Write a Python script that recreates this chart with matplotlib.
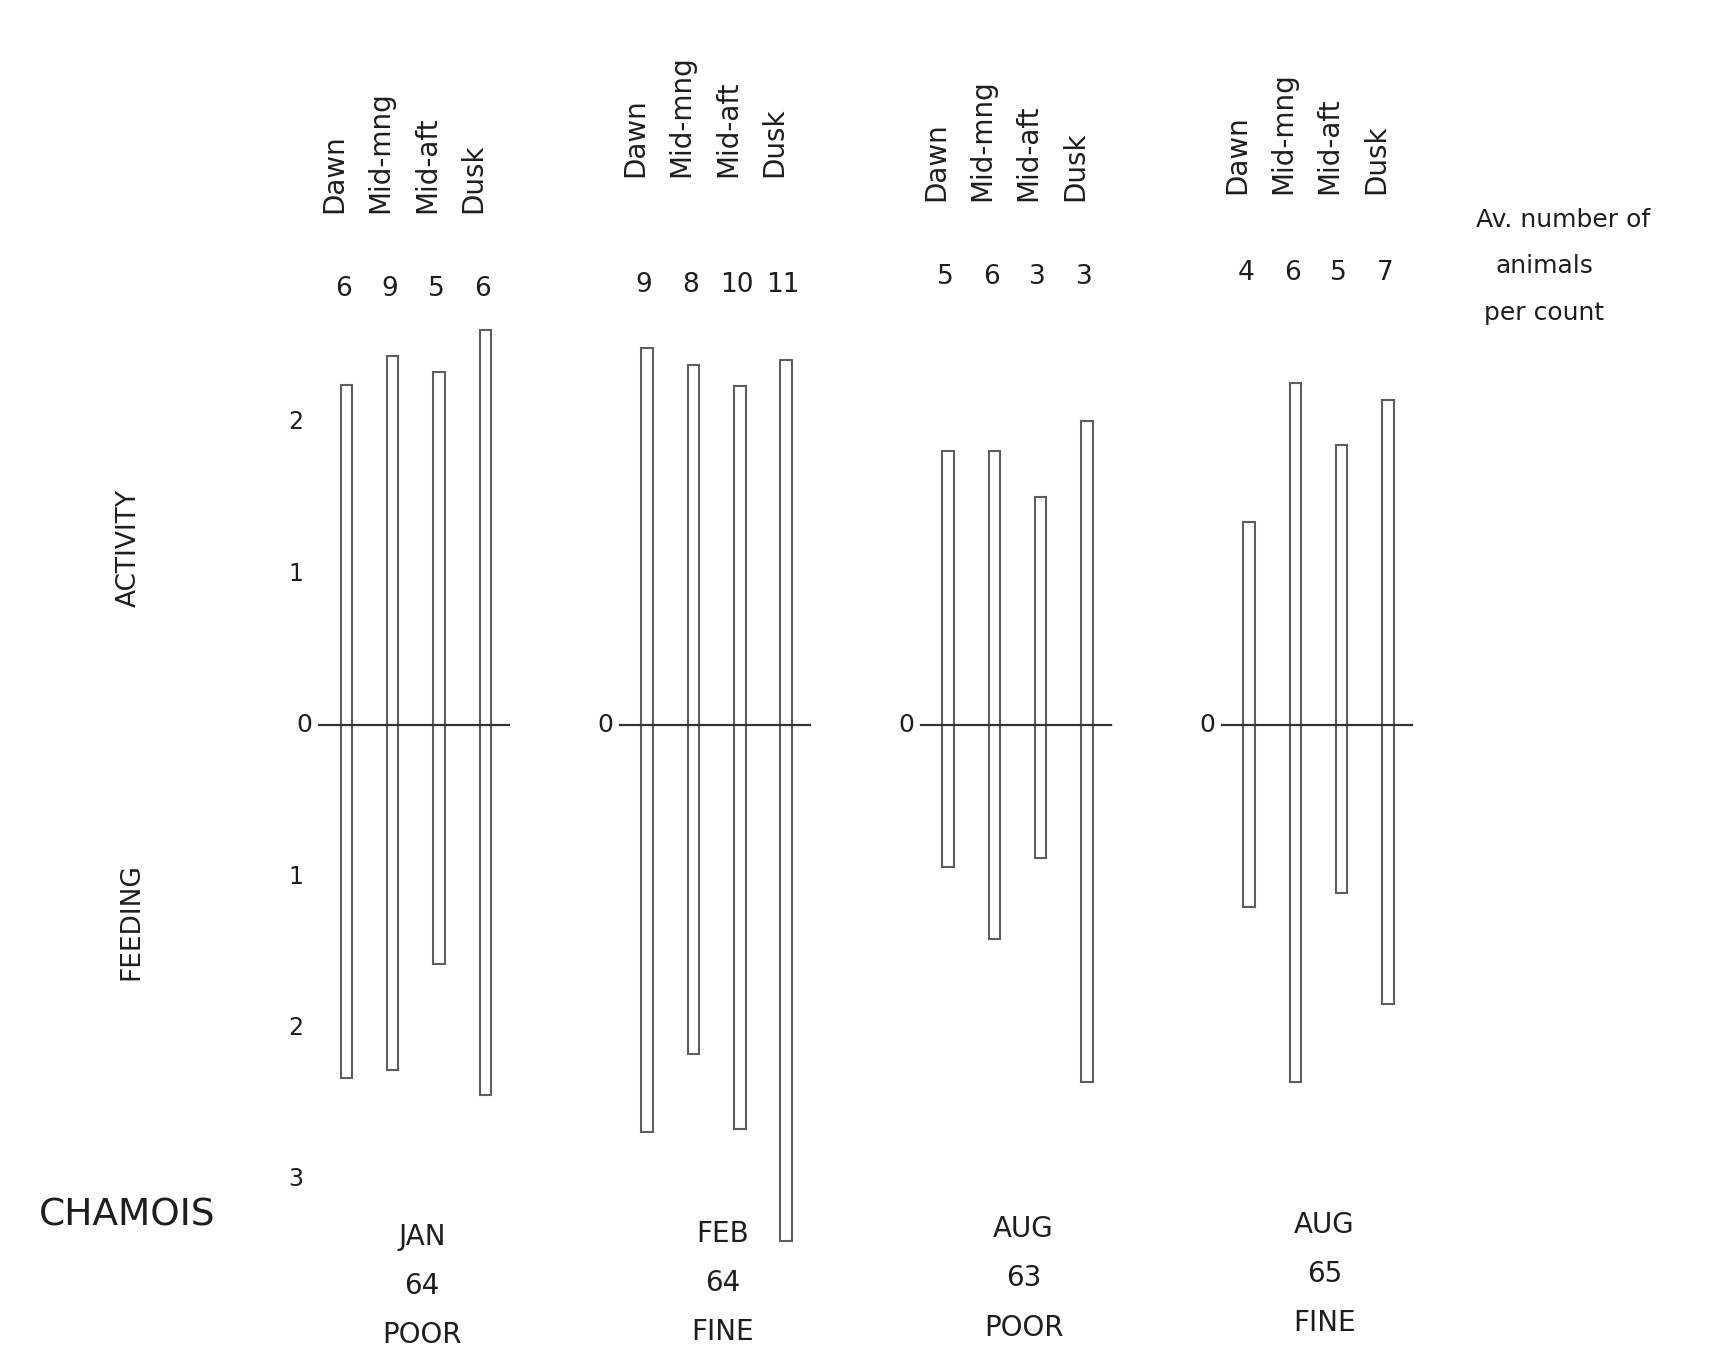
import numpy as np
import matplotlib.pyplot as plt

# Chamois activity / feeding per period of the day
periods = ["Dawn", "Mid-mng", "Mid-aft", "Dusk"]
months = ["JAN", "FEB", "AUG", "AUG"]
years = ["64", "64", "63", "65"]
weather = ["POOR", "FINE", "POOR", "FINE"]

counts = [
    [6, 9, 5, 6],
    [9, 8, 10, 11],
    [5, 6, 3, 3],
    [4, 6, 5, 7],
]

activity = [
    [2.25, 2.44, 2.33, 2.61],
    [2.49, 2.38, 2.24, 2.41],
    [1.81, 1.81, 1.51, 2.01],
    [1.34, 2.26, 1.85, 2.15],
]

feeding = [
    [2.33, 2.28, 1.58, 2.44],
    [2.69, 2.17, 2.67, 3.41],
    [0.94, 1.41, 0.88, 2.36],
    [1.20, 2.36, 1.11, 1.84],
]

# layout (scan is a bit skewed, so each panel has its own offsets)
slot_gap = 0.154
bar_w = 0.038
label_base = [3.38, 3.62, 3.46, 3.51]
count_y = [2.88, 2.91, 2.96, 2.99]
month_y = [-3.38, -3.36, -3.33, -3.30]

ink = "#1e1e1e"

fig = plt.figure(figsize=(17.2, 13.56), dpi=100)
ax = fig.add_axes([0, 0, 1, 1])
ax.set_xlim(-1.3817, 4.3346)
ax.set_ylim(-4.167, 4.790)
ax.axis("off")

for g in range(4):
    xs = g + (np.arange(4) - 1.5) * slot_gap
    act = np.array(activity[g])
    feed = np.array(feeding[g])

    # hollow bars from feeding (below 0) up to activity (above 0)
    ax.bar(xs, act + feed, bottom=-feed, width=bar_w, fill=False,
           edgecolor="#5e5e5e", linewidth=1.5, zorder=2)

    # zero line
    ax.plot([g - 0.32, g + 0.31], [0, 0], color="#333333", lw=1.6, zorder=3)
    ax.text(g - 0.37, 0, "0", fontsize=18, color=ink, ha="center", va="center")

    # period labels and counts
    for s in range(4):
        ax.text(xs[s] - 0.04, label_base[g], periods[s], rotation=90,
                fontsize=20, color=ink, ha="center", va="bottom")
        ax.text(xs[s] - 0.01, count_y[g], str(counts[g][s]),
                fontsize=19, color=ink, ha="center", va="center")

    # month / year / weather
    for k, t in enumerate([months[g], years[g], weather[g]]):
        ax.text(g + 0.02, month_y[g] - 0.325 * k, t, fontsize=20, color=ink,
                ha="center", va="center")

# y scale on the first panel
for v in [2, 1, -1, -2, -3]:
    ax.text(-0.40, v, str(abs(v)), fontsize=17, color=ink, ha="center", va="center")

ax.text(-0.955, 1.17, "ACTIVITY", rotation=90, fontsize=19, color=ink,
        ha="center", va="center")
ax.text(-0.944, -1.30, "FEEDING", rotation=90, fontsize=19, color=ink,
        ha="center", va="center")
ax.text(-0.96, -3.24, "CHAMOIS", fontsize=27, color=ink, ha="center", va="center")

ax.text(3.813, 3.34, "Av. number of", fontsize=18, color=ink, ha="center", va="center")
ax.text(3.75, 3.03, "animals", fontsize=18, color=ink, ha="center", va="center")
ax.text(3.75, 2.72, "per count", fontsize=18, color=ink, ha="center", va="center")

plt.savefig("out.png", dpi=100)
